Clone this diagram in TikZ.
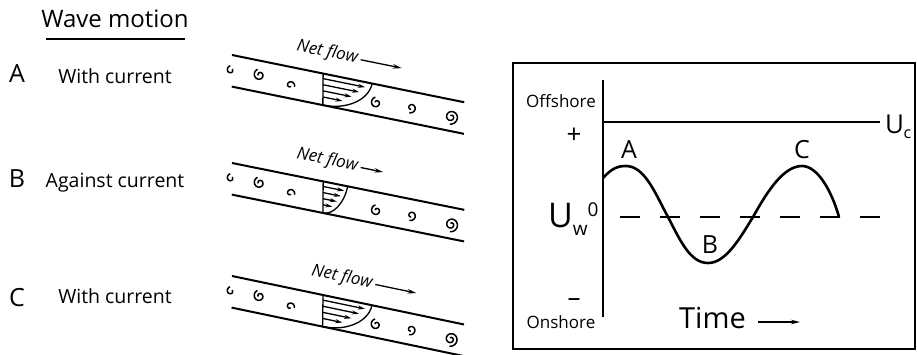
\documentclass[tikz,border=0pt]{standalone}
\usepackage{fontspec}
\setmainfont{Open Sans}
\usetikzlibrary{arrows.meta}
\newcommand{\myfs}[1]{\fontsize{#1}{#1}\selectfont}
\tikzset{
  lbl/.style={inner sep=0pt, anchor=base},
  tubeline/.style={line width=2pt},
  swirl/.style={line width=1.5pt},
  vel/.style={line width=1.3pt, -{Stealth[length=7pt,width=4pt]}},
  flowarrow/.style={line width=1.3pt, -{Stealth[length=9pt,width=4.5pt]}},
  spiral/.pic={\draw[swirl] plot[smooth,domain=0:#1,samples=50,variable=\t] ({(1.2+\t/95)*cos(\t)},{(1.2+\t/95)*sin(\t)});},
}
% #1 origin, #2 angle, #3 profile reach, #4 text end, #5 arrow end, #6 name
\newcommand{\mytube}[6]{%
\begin{scope}[shift={(#1)}, rotate=#2]
  \draw[tubeline] (0,0) -- (237,0);
  \draw[tubeline] (6,31) -- (243,31);
  \draw[line width=1.3pt] (93,0) -- (99,31);
  \draw[line width=1.3pt] (99,31) .. controls ({99+0.55*(#3-99)},31) and (#3,17) .. (#3,0);
  \foreach \v/\f in {5/0.86,11/0.75,17/0.6,23/0.42}
    \draw[vel] ({93+0.2*\v},\v) -- ({99+\f*(#3-99)},\v);
  \node[lbl, anchor=base east, transform shape] (#6) at (#4,-17) {\myfs{17}\itshape Net flow};
  \draw[flowarrow] ({#4+3},-21) -- (#5,-21);
  \pic[rotate=40] at (2,15) {spiral=300};
  \pic[rotate=200] at (31,14) {spiral=450};
  \pic[rotate=-60] at (63,18) {spiral=320};
  \pic[rotate=160] at (151,18) {spiral=420};
  \pic[rotate=-90] at (186,16) {spiral=380};
  \pic[rotate=120] at (227,17) {spiral=580};
\end{scope}}
\begin{document}
\begin{tikzpicture}[x=1pt,y=-1pt, line cap=butt]
\useasboundingbox (0,0) rectangle (917,354);
% ---- left legend
\node[lbl] (wm) at (115,27) {\myfs{24}Wave motion};
\draw[line width=2pt] (46,39) -- (185,39);
\node[lbl] (la) at (17,82) {\myfs{25}A};
\node[lbl] (ta) at (115,83) {\myfs{19.5}With current};
\node[lbl] (lb) at (17,187) {\myfs{25}B};
\node[lbl] (tb) at (115,187) {\myfs{19.5}Against current};
\node[lbl] (lc) at (17,306) {\myfs{25}C};
\node[lbl] (tc) at (115,303) {\myfs{19.5}With current};
% ---- tubes
\mytube{232,55}{-11.5}{143}{124}{169}{nfa}
\mytube{232,163}{-11.4}{118}{124}{150}{nfb}
\mytube{232,276}{-11.8}{143}{139}{184}{nfc}
% ---- right panel
\draw[line width=2.5pt] (513,63) rectangle (915,349);
\coordinate (ax1) at (603,80);
\coordinate (ax2) at (603,317);
\draw[line width=2.5pt] (ax1) -- (ax2);
\coordinate (uc1) at (603,122);
\coordinate (uc2) at (880,122);
\draw[line width=2pt] (uc1) -- (uc2);
\coordinate (d1) at (620,217);
\coordinate (d2) at (880,217);
\draw[line width=2pt, dash pattern=on 20pt off 20pt] (d1) -- (d2);
\draw[line width=2.6pt, line join=round] (603,178) .. controls (612,168) and (618,166) .. (626,166)
  .. controls (645,166) and (656,195) .. (668,217)
  .. controls (680,240) and (690,263) .. (708,263)
  .. controls (726,263) and (740,238) .. (753,217)
  .. controls (768,190) and (784,166) .. (802,166)
  .. controls (818,166) and (832,192) .. (839,217);
\node[lbl] (off) at (561,107) {\myfs{17}Offshore};
\node[lbl] (plus) at (574,143) {\myfs{26}+};
\node[lbl] (pa) at (629,158) {\myfs{25}A};
\node[lbl] (pb) at (710,253) {\myfs{25}B};
\node[lbl] (pc) at (802,158) {\myfs{25}C};
\node[lbl, anchor=base west] (uw) at (548,227) {\myfs{34}U\raisebox{-8pt}{\myfs{19}w}\raisebox{11pt}{\myfs{19}0}};
\node[lbl] (minus) at (574,306) {\myfs{26}–};
\node[lbl] (on) at (561,328) {\myfs{17}Onshore};
\node[lbl, anchor=base west] (time) at (679,328) {\myfs{29}Time};
\coordinate (tarr) at (800,322);
\draw[flowarrow] (758,322) -- (tarr);
\node[lbl, anchor=base west] (ucl) at (885,133) {\myfs{26}U\kern-0.5pt\raisebox{-5pt}{\myfs{16}c}};
\end{tikzpicture}
\end{document}
